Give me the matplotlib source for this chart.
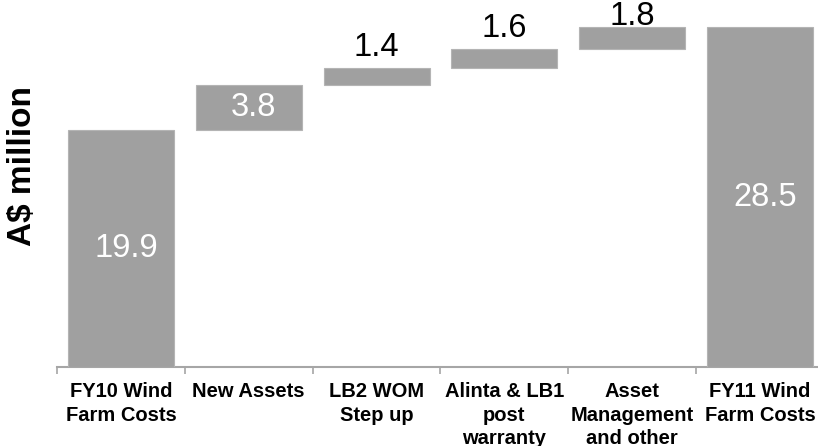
import matplotlib.pyplot as plt
import numpy as np

plt.rcParams['font.family'] = ['Liberation Sans', 'DejaVu Sans']

categories = ['FY10 Wind\nFarm Costs', 'New Assets', 'LB2 WOM\nStep up',
              'Alinta & LB1\npost\nwarranty', 'Asset\nManagement\nand other',
              'FY11 Wind\nFarm Costs']
changes = [19.9, 3.8, 1.4, 1.6, 1.8]
total = 28.5

# waterfall geometry
heights = changes + [total]
bottoms = [0] + list(np.cumsum(changes[:-1])) + [0]
tops = [b + h for b, h in zip(bottoms, heights)]

bar_color = '#A0A0A0'
axis_color = '#A6A6A6'

fig = plt.figure(figsize=(8.18, 4.46), dpi=100)
ax = fig.add_axes([0.0697, 0.177, 0.9375, 0.823])

x = np.arange(len(categories))
ax.bar(x, heights, bottom=bottoms, width=0.83, color=bar_color,
       edgecolor='#B4B4B4', linewidth=0.8, zorder=3)

ax.set_xlim(-0.5, len(categories) - 0.5)
ax.set_ylim(0, 30.8)

# labels inside the big bars and the first step
for i in [0, 1, 5]:
    ax.text(x[i] + 0.04, bottoms[i] + heights[i] / 2, f'{heights[i]:.1f}',
            ha='center', va='center', color='white', fontsize=23.5, zorder=4)

# labels above the small steps
for i in [2, 3, 4]:
    y = min(tops[i] + 1.75, 29.4)
    ax.text(x[i], y, f'{heights[i]:.1f}', ha='center', va='center',
            color='black', fontsize=23.5, zorder=2)

for s in ['left', 'right', 'top']:
    ax.spines[s].set_visible(False)
ax.spines['bottom'].set_color(axis_color)
ax.spines['bottom'].set_linewidth(1.5)

ax.set_yticks([])
ax.set_xticks(np.arange(len(categories) + 1) - 0.5, minor=False)
ax.set_xticklabels([])
ax.tick_params(axis='x', which='major', length=5, width=1.2, color=axis_color)
ax.set_xticks(x, minor=True)
ax.set_xticklabels(categories, minor=True, fontsize=14.5, fontweight='bold',
                   linespacing=1.28)
ax.tick_params(axis='x', which='minor', length=0, pad=11)

fig.text(0.027, 0.628, 'A$ million', rotation=90, ha='center', va='center',
         fontsize=24, fontweight='bold')

fig.savefig('out.png', dpi=100)
